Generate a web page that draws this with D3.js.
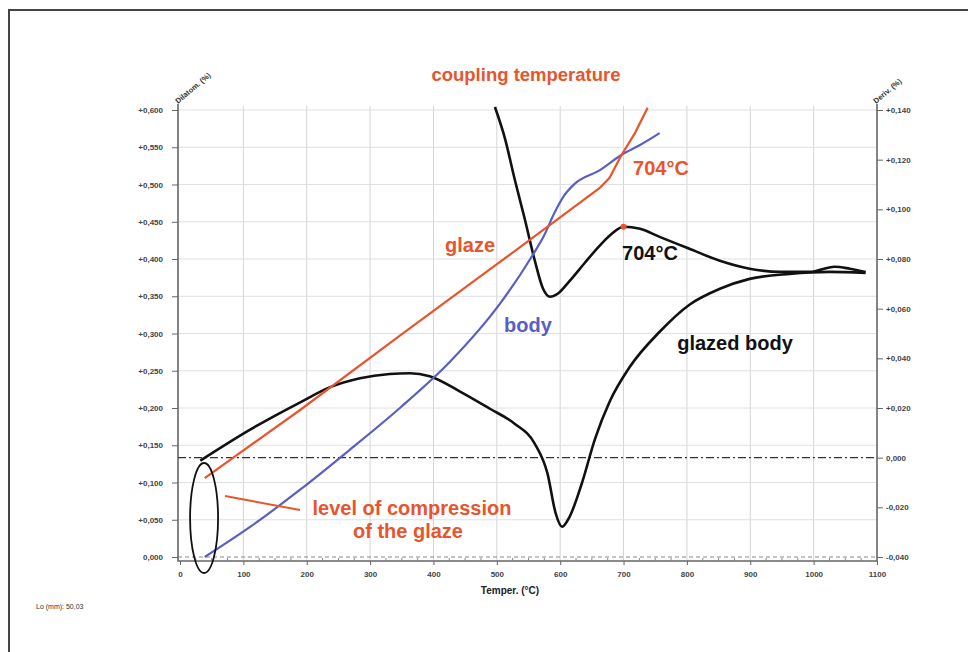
<!DOCTYPE html>
<html>
<head>
<meta charset="utf-8">
<script src="https://cdn.jsdelivr.net/npm/d3@7"></script>
<style>
  body { margin: 0; background: #fff; }
  svg { display: block; font-family: "Liberation Sans", Arial, sans-serif; }
</style>
</head>
<body>
<svg id="chart"></svg>
<script>
const width = 968, height = 652;

// glaze and body expansion (left axis, %)
const glazeT = [39, 189, 347, 505, 662, 678, 697, 718, 738];
const glazeV = [0.106, 0.197, 0.297, 0.396, 0.495, 0.509, 0.540, 0.569, 0.603];
const bodyT = [39, 110, 189, 268, 347, 426, 505, 552, 576, 591, 607, 623, 662, 697, 726, 757];
const bodyV = [0.000, 0.040, 0.090, 0.144, 0.200, 0.262, 0.340, 0.399, 0.434, 0.462, 0.486, 0.501, 0.519, 0.540, 0.553, 0.569];

// glazed body curves (right axis, %)
const glazedBodyT = [32, 110, 189, 237, 284, 331, 363, 394, 442, 489, 528, 560, 580, 593, 603, 615, 634, 655, 678, 710, 757, 804, 852, 899, 962, 1025, 1082];
const glazedBodyV = [-0.0012, 0.0112, 0.0222, 0.0284, 0.0320, 0.0337, 0.0340, 0.0328, 0.0266, 0.0197, 0.0137, 0.0056, -0.0064, -0.0225, -0.0278, -0.0237, -0.0105, 0.0076, 0.0225, 0.0366, 0.0507, 0.0616, 0.0680, 0.0720, 0.0740, 0.0748, 0.0744];
const couplingT = [497, 513, 528, 544, 560, 573, 584, 596, 615, 639, 662, 681, 700, 726, 757, 804, 852, 899, 946, 994, 1033, 1057, 1082];
const couplingV = [0.1412, 0.1284, 0.1123, 0.0962, 0.0793, 0.0680, 0.0648, 0.0660, 0.0712, 0.0785, 0.0853, 0.0901, 0.0930, 0.0922, 0.0889, 0.0841, 0.0793, 0.0761, 0.0748, 0.0748, 0.0769, 0.0761, 0.0748];

const xTicks = [0, 100, 200, 300, 400, 500, 600, 700, 800, 900, 1000, 1100];
const leftTicks = d3.range(0, 0.6001, 0.05);
const rightTicks = d3.range(-0.04, 0.1401, 0.02);

const orange = "#e8552d", blue = "#5a5ec4", black = "#111";

const svg = d3.select("#chart")
  .attr("width", width)
  .attr("height", height);

// outer frame (top and left edges)
svg.append("path")
  .attr("d", `M9,${height} V10 H${width}`)
  .attr("fill", "none")
  .attr("stroke", "#444")
  .attr("stroke-width", 2);

const x = d3.scaleLinear().domain([0, 1100]).range([180, 877]);
const yL = d3.scaleLinear().domain([0, 0.6]).range([557, 110]);
const yR = d3.scaleLinear().domain([-0.04, 0.14]).range([557, 110]);

const fmt = v => {
  const s = Math.abs(v).toFixed(3).replace(".", ",");
  if (Math.abs(v) < 1e-9) return "0,000";
  return (v > 0 ? "+" : "-") + s;
};

svg.append("defs").append("clipPath").attr("id", "plot")
  .append("rect").attr("x", 178).attr("y", 106).attr("width", 700).attr("height", 456);

// gridlines
svg.append("g")
  .selectAll("line")
  .data(xTicks.slice(1, -1))
  .enter()
  .append("line")
  .attr("x1", d => x(d)).attr("x2", d => x(d))
  .attr("y1", 106).attr("y2", 560)
  .attr("stroke", "#d4d4d4").attr("stroke-width", 1);
svg.append("g")
  .selectAll("line")
  .data(leftTicks.slice(1))
  .enter()
  .append("line")
  .attr("x1", 178).attr("x2", 877)
  .attr("y1", d => yL(d)).attr("y2", d => yL(d))
  .attr("stroke", "#e0e0e0").attr("stroke-width", 1);

// bottom dashed reference at 0
svg.append("line")
  .attr("x1", 178).attr("x2", 877).attr("y1", 557).attr("y2", 557)
  .attr("stroke", "#888").attr("stroke-dasharray", "4,3");

// frame lines
svg.append("path")
  .attr("d", "M178,104 V561 H877 V104")
  .attr("fill", "none").attr("stroke", "#666").attr("stroke-width", 1.6);

// left axis
svg.append("g")
  .attr("transform", "translate(178,0)")
  .call(d3.axisLeft(yL).tickValues(leftTicks).tickFormat(fmt).tickSize(6))
  .call(g => g.select(".domain").remove())
  .call(g => g.selectAll("line").attr("stroke", "#666"))
  .call(g => g.selectAll("text").attr("font-size", 8).attr("font-weight", "bold").attr("fill", "#444").attr("dx", -6));

// right axis
svg.append("g")
  .attr("transform", "translate(877,0)")
  .call(d3.axisRight(yR).tickValues(rightTicks).tickFormat(fmt).tickSize(6))
  .call(g => g.select(".domain").remove())
  .call(g => g.selectAll("line").attr("stroke", "#666"))
  .call(g => g.selectAll("text").attr("font-size", 8).attr("font-weight", "bold").attr("fill", "#444"));

// bottom axis
svg.append("g")
  .attr("transform", "translate(0,561)")
  .call(d3.axisBottom(x).tickValues(xTicks).tickFormat(d3.format("d")).tickSize(4))
  .call(g => g.select(".domain").remove())
  .call(g => g.selectAll("line").attr("stroke", "#666"))
  .call(g => g.selectAll("text").attr("font-size", 8).attr("font-weight", "bold").attr("fill", "#444").attr("dy", "1.1em"));

// minor ticks on x axis
svg.append("g")
  .selectAll("line")
  .data(d3.range(25, 1100, 25).filter(d => d % 100 !== 0))
  .enter()
  .append("line")
  .attr("x1", d => x(d)).attr("x2", d => x(d))
  .attr("y1", 558).attr("y2", 561)
  .attr("stroke", "#888");

// dash-dot zero line of right axis
svg.append("line")
  .attr("x1", 178).attr("x2", 877).attr("y1", yR(0)).attr("y2", yR(0))
  .attr("stroke", "#333").attr("stroke-width", 1.2)
  .attr("stroke-dasharray", "8,3,2,3");

// axis titles
svg.append("text")
  .attr("transform", "translate(178,104) rotate(-40)")
  .attr("font-size", 7.5).attr("font-weight", "bold").attr("fill", "#333")
  .text("Dilatom. (%)");
svg.append("text")
  .attr("transform", "translate(876,104) rotate(-40)")
  .attr("font-size", 7.5).attr("font-weight", "bold").attr("fill", "#333")
  .text("Deriv. (%)");
svg.append("text")
  .attr("x", 510).attr("y", 594)
  .attr("text-anchor", "middle")
  .attr("font-size", 10).attr("font-weight", "bold").attr("fill", "#222")
  .text("Temper. (°C)");
svg.append("text")
  .attr("x", 36).attr("y", 609)
  .attr("font-size", 7).attr("fill", "#333")
  .text("Lo (mm): 50,03");

// curves
const plot = svg.append("g").attr("clip-path", "url(#plot)");
const lineL = d3.line().x(d => x(d[0])).y(d => yL(d[1])).curve(d3.curveMonotoneX);
const lineR = d3.line().x(d => x(d[0])).y(d => yR(d[1])).curve(d3.curveMonotoneX);

plot.append("path")
  .datum(d3.zip(couplingT, couplingV))
  .attr("d", lineR).attr("fill", "none").attr("stroke", black).attr("stroke-width", 2.6);
plot.append("path")
  .datum(d3.zip(glazedBodyT, glazedBodyV))
  .attr("d", lineR).attr("fill", "none").attr("stroke", black).attr("stroke-width", 2.6);
plot.append("path")
  .datum(d3.zip(bodyT, bodyV))
  .attr("d", lineL).attr("fill", "none").attr("stroke", blue).attr("stroke-width", 2.2);
plot.append("path")
  .datum(d3.zip(glazeT, glazeV))
  .attr("d", d3.line().x(d => x(d[0])).y(d => yL(d[1])))
  .attr("fill", "none").attr("stroke", orange).attr("stroke-width", 2.2);

// coupling point marker
svg.append("circle")
  .attr("cx", x(700)).attr("cy", yR(0.0930)).attr("r", 3)
  .attr("fill", orange);

// level of compression ellipse + pointer
svg.append("ellipse")
  .attr("cx", x(38)).attr("cy", 518).attr("rx", 14).attr("ry", 55)
  .attr("fill", "none").attr("stroke", black).attr("stroke-width", 1.8);
svg.append("line")
  .attr("x1", 225).attr("y1", 496).attr("x2", 300).attr("y2", 510)
  .attr("stroke", orange).attr("stroke-width", 2);

// annotations
const label = (tx, ty, txt, col, size) => svg.append("text")
  .attr("x", tx).attr("y", ty)
  .attr("text-anchor", "middle")
  .attr("font-size", size || 20).attr("font-weight", "bold").attr("fill", col)
  .text(txt);

label(526, 81, "coupling temperature", orange, 18.5);
label(661, 175, "704°C", orange);
label(650, 260, "704°C", black);
label(470, 252, "glaze", orange);
label(528, 332, "body", blue);
label(735, 350, "glazed body", black);
label(412, 515, "level of compression", orange);
label(408, 538, "of the glaze", orange);
</script>
</body>
</html>
